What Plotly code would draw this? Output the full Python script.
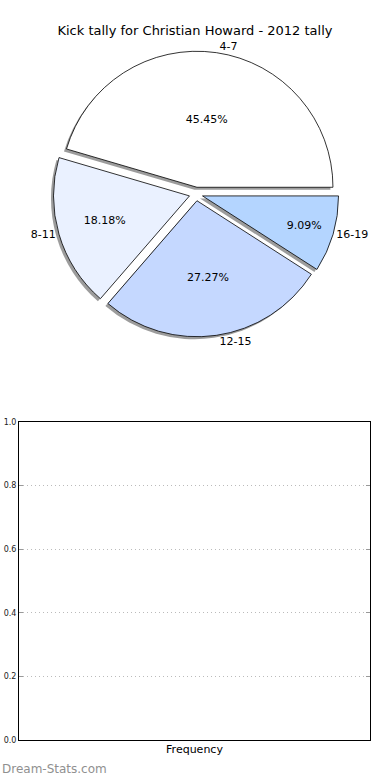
import plotly.graph_objects as go

# Data
categories = ["4-7", "8-11", "12-15", "16-19"]
tally = [5, 2, 3, 1]
slice_colors = ["#FFFFFF", "#EAF1FF", "#C5D8FF", "#B4D5FF"]
pull_amounts = [0.05, 0.05, 0.05, 0.05]
freq_x = []
freq_y = []
y_ticks = [0.0, 0.2, 0.4, 0.6, 0.8, 1.0]

W, H = 390, 780
FONT = "DejaVu Sans"


def px(x):
    return x / W


def py(y):
    return 1 - y / H


# first slice starts at 3 o'clock and runs counterclockwise
start_rot = 90 - 360 * tally[0] / sum(tally)

# pie geometry (pixels)
cx, cy, rad = 196, 194, 136
half = rad * (1 + max(pull_amounts))


def dom(dx=0, dy=0):
    return dict(
        x=[px(cx - half + dx), px(cx + half + dx)],
        y=[py(cy + half + dy), py(cy - half + dy)],
    )


fig = go.Figure()

# shadow
fig.add_trace(go.Pie(
    labels=categories, values=tally, sort=False, direction="counterclockwise",
    rotation=start_rot, pull=pull_amounts, domain=dom(-2.5, 2.5),
    marker=dict(colors=["rgba(90,90,90,0.6)"] * len(tally), line=dict(width=0)),
    textinfo="none", hoverinfo="skip", showlegend=False,
))

# main pie with percentages
fig.add_trace(go.Pie(
    labels=categories, values=tally, sort=False, direction="counterclockwise",
    rotation=start_rot, pull=pull_amounts, domain=dom(),
    marker=dict(colors=slice_colors, line=dict(color="#000000", width=0.8)),
    texttemplate="%{percent:.2%}", textposition="inside",
    insidetextorientation="horizontal",
    textfont=dict(family=FONT, size=11, color="#000000"),
    showlegend=False,
))

# outside labels
fig.add_trace(go.Pie(
    labels=categories, values=tally, sort=False, direction="counterclockwise",
    rotation=start_rot, pull=pull_amounts, domain=dom(),
    marker=dict(colors=["rgba(0,0,0,0)"] * len(tally), line=dict(width=0)),
    texttemplate="%{label}", textposition="outside",
    textfont=dict(family=FONT, size=11, color="#000000"),
    hoverinfo="skip", showlegend=False,
))

# empty frequency axes
fig.add_trace(go.Bar(x=freq_x, y=freq_y, xaxis="x", yaxis="y", showlegend=False))

fig.update_layout(
    template="none",
    width=W, height=H,
    margin=dict(l=0, r=0, t=0, b=0, autoexpand=False),
    paper_bgcolor="white", plot_bgcolor="white",
    font=dict(family=FONT, size=11, color="#000000"),
    title=dict(text="Kick tally for Christian Howard - 2012 tally",
               x=px(195), xanchor="center", y=py(30), yanchor="middle",
               font=dict(family=FONT, size=13, color="#000000")),
    xaxis=dict(domain=[px(19), px(370)], range=[0, 1], showticklabels=False,
               showgrid=False, zeroline=False, ticks="", automargin=False,
               showline=True, linecolor="#000000", linewidth=1, mirror=True,
               title=dict(text="Frequency", standoff=5,
                          font=dict(family=FONT, size=11, color="#000000")),
               anchor="y", fixedrange=True),
    yaxis=dict(domain=[py(740), py(422)], range=[0, 1], tickvals=y_ticks,
               tickformat=".1f", showgrid=True, gridcolor="#BBBBBB",
               griddash="1px,3px", gridwidth=1, zeroline=False, automargin=False,
               ticks="inside", ticklen=4, tickcolor="#999999",
               showline=True, linecolor="#000000", linewidth=1, mirror="ticks",
               tickfont=dict(family=FONT, size=8, color="#222222"),
               anchor="x", fixedrange=True),
    annotations=[dict(text="Dream-Stats.com", x=0, y=py(778), xref="paper",
                      yref="paper", xanchor="left", yanchor="bottom",
                      showarrow=False,
                      font=dict(family=FONT, size=12, color="#909090"))],
)

fig.write_html("out.html",
               config={"displayModeBar": False},
               post_script="document.body.style.margin='0';"
                           "document.body.style.overflow='hidden';")
